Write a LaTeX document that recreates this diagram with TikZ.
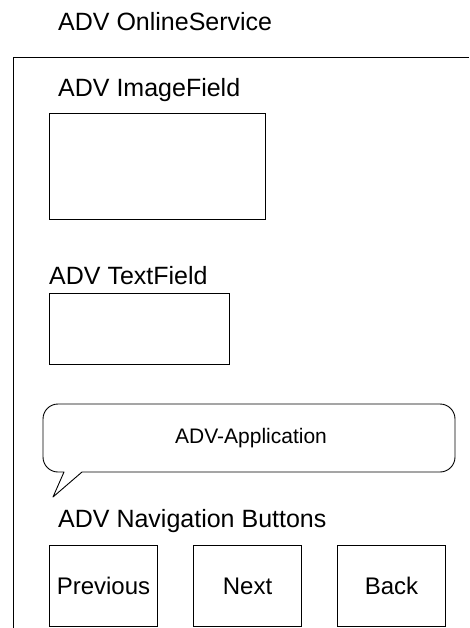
\documentclass[tikz,border=0pt]{standalone}
\usepackage{fontspec}
\setmainfont{Liberation Sans}
\begin{document}
\begin{tikzpicture}[x=1pt, y=-1pt,
  lbl/.style={anchor=base west, inner sep=0pt, font=\fontsize{25}{30}\selectfont},
  field/.style={draw, line width=1pt, anchor=north west, inner sep=0pt},
  navbtn/.style={draw, line width=1pt, anchor=north west, inner sep=0pt,
    minimum width=108pt, minimum height=81pt, font=\fontsize{24}{29}\selectfont},
  bubble/.style={line width=0.9pt, line join=round}]
\useasboundingbox (0,0) rectangle (469,628);

% outer container frame (open to the right and bottom)
\coordinate (frameTR) at (469,58);
\coordinate (frameTL) at (13,58);
\coordinate (frameBL) at (13,628);
\draw[line width=1pt] (frameTR) -- (frameTL) -- (frameBL);

\node[lbl] (svc) at (58,31) {ADV OnlineService};

% image field
\node[lbl] (imglbl) at (58,97) {ADV ImageField};
\node[field, minimum width=216pt, minimum height=106pt] (img) at (49,113) {};

% text field
\node[lbl] (txtlbl) at (49,284) {ADV TextField};
\node[field, minimum width=180pt, minimum height=71pt] (txt) at (49,293) {};

% speech bubble
\draw[bubble] (64,472) -- (53,497) -- (82,472) -- (440,472)
  arc[start angle=90, end angle=0, x radius=15pt, y radius=-15pt]
  -- (455,419)
  arc[start angle=0, end angle=-90, x radius=15pt, y radius=-15pt]
  -- (58,404)
  arc[start angle=-90, end angle=-180, x radius=15pt, y radius=-15pt]
  -- (43,457)
  arc[start angle=180, end angle=90, x radius=15pt, y radius=-15pt]
  -- cycle;
\node[anchor=base, inner sep=0pt, font=\fontsize{21}{25}\selectfont] (app) at (251,443) {ADV-Application};

% navigation buttons
\node[lbl] (navlbl) at (58,527) {ADV Navigation Buttons};
\node[navbtn] (prev) at (49,545) {Previous};
\node[navbtn] (next) at (193,545) {Next};
\node[navbtn] (back) at (337,545) {Back};
\end{tikzpicture}
\end{document}
